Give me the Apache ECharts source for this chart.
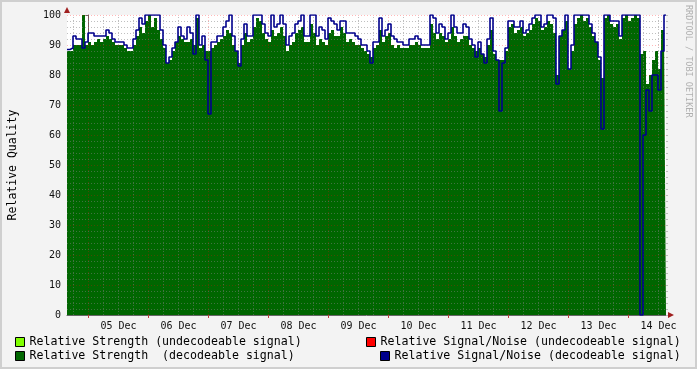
<!DOCTYPE html>
<html>
<head>
<meta charset="utf-8">
<script src="https://cdn.jsdelivr.net/npm/echarts@6/dist/echarts.min.js"></script>
<style>
html,body{margin:0;padding:0;background:#f3f3f3;}
#wrap{position:relative;width:697px;height:369px;}
#chart{position:absolute;left:0;top:0;width:697px;height:369px;}
#frame{position:absolute;left:0;top:0;width:697px;height:369px;box-sizing:border-box;border:2px solid #cfcfcf;pointer-events:none;}
</style>
</head>
<body>
<div id="wrap"><div id="chart"></div><div id="frame"></div></div>
<script>
// time axis in hours relative to 05 Dec 00:00
const startHour = -8.6;
const stepHours = 1.2;
const endHour = 231.0;
const dayLabels = ['05 Dec','06 Dec','07 Dec','08 Dec','09 Dec','10 Dec','11 Dec','12 Dec','13 Dec','14 Dec'];
const yTicks = [0,10,20,30,40,50,60,70,80,90,100];

// Relative Signal/Noise (decodeable signal)
const snrDecodeable = [
88.5,89,93,92,92,89,91,94,94,93,
93,93,93,95,94,92,91,91,91,90,
89,89,92,95,99,97,100,100,100,100,
100,95,90,84,86,89,91,96,93,92,
96,94,87,100,90,93,85,67,91,91,
93,93,96,98,100,93,88,83,92,97,
93,93,100,100,100,97,94,93,100,96,
97,100,97,90,93,94,97,98,100,93,
93,100,100,93,96,95,92,99,98,97,
95,98,98,94,94,94,93,92,90,90,
88,84,91,91,99,93,95,97,93,92,
91,91,90,90,92,92,93,92,90,90,
90,100,99,94,97,96,92,94,100,96,
94,94,97,96,92,90,86,91,87,84,
92,99,88,85,68,84,89,98,98,96,
96,98,94,95,97,99,100,100,96,97,
100,100,99,77,93,95,100,82,90,100,
100,100,100,100,97,94,91,86,62,100,
100,98,98,98,93,100,100,100,100,100,
100,0,60,75,68,80,80,75,88,100];

// Relative Strength (decodeable signal)
const strengthDecodeable = [
88,88,90,90,90,100,90,91,90,91,
92,91,92,93,92,91,90,90,90,89,
88,88,90,93,96,94,98,100,96,99,
95,92,89,84,85,88,91,93,92,91,
91,92,90,99,89,90,88,88,89,90,
91,92,93,95,94,90,88,84,90,94,
91,92,96,99,98,94,92,91,95,93,
94,96,93,88,90,91,94,95,96,91,
91,97,94,90,92,91,90,94,95,93,
93,96,94,91,92,91,90,90,89,88,
87,86,89,90,95,91,93,94,90,89,
90,89,89,89,90,90,91,90,89,89,
89,97,94,92,94,93,91,92,96,93,
91,92,93,93,90,89,88,89,87,86,
90,95,87,85,85,85,88,96,97,94,
95,96,93,94,95,97,99,98,95,96,
98,97,94,80,93,95,98,82,88,97,
99,100,98,99,96,93,91,85,79,99,
100,97,96,97,92,99,100,98,99,100,
99,87,88,77,80,85,88,82,95,95];

const strengthUndecodeable = [];
const snrUndecodeable = [];

const names = {
  su: 'Relative Strength (undecodeable signal)',
  nu: 'Relative Signal/Noise (undecodeable signal)',
  sd: 'Relative Strength  (decodeable signal)',
  nd: 'Relative Signal/Noise (decodeable signal)'
};

function toXY(arr){
  const out = arr.map((v,i)=>[startHour + i*stepHours, v]);
  if (arr.length) out.push([endHour, arr[arr.length-1]]);
  return out;
}

// grid line positions
const midnights = dayLabels.map((d,i)=>i*24);
const labelHours = dayLabels.map((d,i)=>i*24+12);
const minorV = [];
for (let h = -6; h < endHour; h += 6) if (h % 24 !== 0) minorV.push(h);
const minorH = [];
for (let v = 2; v < 100; v += 2) if (v % 10 !== 0) minorH.push(v);
const majorH = yTicks.filter(v=>v>0);

const minorStyle = {color:'rgba(128,128,128,0.5)', width:1, type:[1,2]};
const majorStyle = {color:'rgba(255,0,0,0.28)', width:1, type:[1,2]};
const gridLines = []
  .concat(minorV.map(h=>({xAxis:h, lineStyle:minorStyle})))
  .concat(minorH.map(v=>({yAxis:v, lineStyle:minorStyle})))
  .concat(midnights.map(h=>({xAxis:h, lineStyle:majorStyle})))
  .concat(majorH.map(v=>({yAxis:v, lineStyle:majorStyle})));

const mono = 'DejaVu Sans Mono';
const chart = echarts.init(document.getElementById('chart'), null, {renderer:'canvas'});
const legendBase = {orient:'horizontal', padding:0, itemWidth:9, itemHeight:9, itemGap:6, icon:'rect',
  selectedMode:false, textStyle:{fontFamily:mono, fontSize:11.6, color:'#000', padding:[0,0,0,0]},
  itemStyle:{borderColor:'#000', borderWidth:1}};

chart.setOption({
  animation:false,
  backgroundColor:'#f3f3f3',
  grid:{left:67, top:15, width:599, height:300, show:true, backgroundColor:'#ffffff', borderWidth:0,
    containLabel:false, outerBoundsMode:'none'},
  legend:[
    Object.assign({}, legendBase, {data:[names.su], left:15, top:336}),
    Object.assign({}, legendBase, {data:[names.sd], left:15, top:350}),
    Object.assign({}, legendBase, {data:[names.nu], left:366, top:336}),
    Object.assign({}, legendBase, {data:[names.nd], left:380, top:350})
  ],
  xAxis:{type:'value', min:startHour, max:endHour,
    axisLine:{show:true, lineStyle:{color:'#666', width:1}},
    axisTick:{show:true, customValues:midnights, length:3, inside:false, lineStyle:{color:'#c04040'}},
    axisLabel:{customValues:labelHours, formatter:(v)=>dayLabels[Math.round((v-12)/24)] || '',
      fontFamily:mono, fontSize:10, color:'#111', margin:6},
    splitLine:{show:false}},
  yAxis:[{type:'value', min:0, max:100, interval:10,
    name:'Relative Quality', nameLocation:'middle', nameGap:48,
    nameTextStyle:{fontFamily:mono, fontSize:11.5, color:'#000'},
    axisLine:{show:true, lineStyle:{color:'#666', width:1}},
    axisTick:{show:true, length:3, lineStyle:{color:'#666'}},
    axisLabel:{fontFamily:mono, fontSize:10, color:'#111', margin:6},
    splitLine:{show:false}},
   {type:'value', min:0, max:100, interval:2, position:'right',
    axisLine:{show:false}, axisLabel:{show:false}, splitLine:{show:false},
    axisTick:{show:true, length:2, lineStyle:{color:'#bbb'}}}],
  series:[
    {name:names.su, type:'line', data:strengthUndecodeable, color:'#80ff00', showSymbol:false},
    {name:names.nu, type:'line', data:snrUndecodeable, color:'#ff0000', showSymbol:false},
    {name:names.sd, type:'line', step:'end', data:toXY(strengthDecodeable), color:'#006600',
      showSymbol:false, symbol:'none', lineStyle:{width:0}, areaStyle:{color:'#006600', opacity:1},
      z:2,
      markLine:{silent:true, symbol:'none', label:{show:false}, animation:false, z:5, data:gridLines}},
    {name:names.nd, type:'line', step:'end', data:toXY(snrDecodeable), color:'#00008c',
      showSymbol:false, symbol:'none', lineStyle:{width:1.6, color:'#00008c'}, z:10}
  ],
  graphic:[
    {type:'polygon', shape:{points:[[64,13],[70,13],[67,7]]}, style:{fill:'#a02020'}, z:20},
    {type:'polygon', shape:{points:[[668,312],[668,318],[674,315]]}, style:{fill:'#a02020'}, z:20},
    {type:'text', x:693, y:5, rotation:-Math.PI/2,
      style:{text:'RRDTOOL / TOBI OETIKER', font:'8.5px "DejaVu Sans Mono"', fill:'#b0b0b0', textAlign:'left', textVerticalAlign:'top'}}
  ]
});
</script>
</body>
</html>
